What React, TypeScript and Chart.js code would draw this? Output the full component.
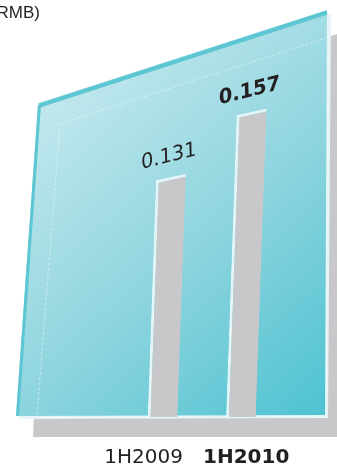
import React, { useEffect, useRef } from 'react';
import { Chart, registerables } from 'chart.js';

Chart.register(...registerables);

// ---- data ----
const categories = ['1H2009', '1H2010'];
const values = [0.131, 0.157];
const valueLabels = ['0.131', '0.157'];
const emphasis = [false, true];
const unitLabel = '(RMB)';

// ---- style constants ----
const W = 337;
const H = 467;
const SKEW_Y = -0.22; // vertical shear (perspective of bar tops)
const SKEW_X = -0.035; // horizontal shear (lean of bar sides)
const LABEL_ANGLE = Math.atan(-0.25);
const LABEL_SLANT = -0.22;
const CLIP_BOTTOM = 417;
const TEXT = '#231f20';

function poly(ctx: CanvasRenderingContext2D, pts: number[][]) {
  ctx.beginPath();
  pts.forEach((p, i) => (i === 0 ? ctx.moveTo(p[0], p[1]) : ctx.lineTo(p[0], p[1])));
  ctx.closePath();
}

const panelPlugin = {
  id: 'panel',
  beforeDraw(chart: any) {
    const ctx: CanvasRenderingContext2D = chart.ctx;
    ctx.save();
    ctx.fillStyle = '#ffffff';
    ctx.fillRect(0, 0, chart.width, chart.height);
    // grey shadow behind the panel
    ctx.fillStyle = '#c8c8ca';
    poly(ctx, [[46, 126], [337, 34], [337, 437], [33, 437]]);
    ctx.fill();
    // light rim
    ctx.fillStyle = '#e6f6f8';
    poly(ctx, [[41, 106], [331, 13], [328, 418], [19, 419]]);
    ctx.fill();
    // teal panel
    const g = ctx.createLinearGradient(40, 100, 330, 420);
    g.addColorStop(0, '#c3e8ee');
    g.addColorStop(0.5, '#8dd4de');
    g.addColorStop(1, '#4cc2d1');
    ctx.fillStyle = g;
    poly(ctx, [[38, 103], [327, 10], [325, 415], [16, 416]]);
    ctx.fill();
    // faint inner frame
    ctx.strokeStyle = 'rgba(255,255,255,0.45)';
    ctx.lineWidth = 1;
    ctx.setLineDash([3, 2]);
    ctx.beginPath();
    ctx.moveTo(37, 415);
    ctx.lineTo(60, 124);
    ctx.lineTo(326, 38);
    ctx.stroke();
    ctx.setLineDash([]);
    // top / left border
    ctx.strokeStyle = '#5cc6d2';
    ctx.lineJoin = 'miter';
    ctx.lineWidth = 3;
    ctx.beginPath();
    ctx.moveTo(17.5, 416);
    ctx.lineTo(39.5, 105);
    ctx.stroke();
    ctx.lineWidth = 4;
    ctx.beginPath();
    ctx.moveTo(39.5, 105.5);
    ctx.lineTo(327, 12.5);
    ctx.stroke();
    // unit text
    ctx.fillStyle = TEXT;
    ctx.font = '17px "Liberation Sans", Arial, sans-serif';
    ctx.textAlign = 'right';
    ctx.textBaseline = 'alphabetic';
    ctx.fillText(unitLabel, 40, 18);
    ctx.restore();
  },
};

function pivot(chart: any) {
  const meta = chart.getDatasetMeta(0);
  const X0 = meta.data[0].x;
  const Y0 = chart.scales.y.getPixelForValue(0);
  return { X0, Y0 };
}

const skewPlugin = {
  id: 'skew',
  beforeDatasetsDraw(chart: any) {
    const ctx: CanvasRenderingContext2D = chart.ctx;
    const { X0, Y0 } = pivot(chart);
    ctx.save();
    ctx.beginPath();
    ctx.rect(0, 0, chart.width, CLIP_BOTTOM);
    ctx.clip();
    ctx.transform(1, SKEW_Y, SKEW_X, 1, -SKEW_X * Y0, -SKEW_Y * X0);
  },
  afterDatasetsDraw(chart: any) {
    const ctx: CanvasRenderingContext2D = chart.ctx;
    ctx.restore();
    const { X0, Y0 } = pivot(chart);
    const meta = chart.getDatasetMeta(0);
    ctx.save();
    ctx.fillStyle = TEXT;
    ctx.textAlign = 'center';
    ctx.textBaseline = 'alphabetic';
    meta.data.forEach((el: any, i: number) => {
      const tx = el.x + SKEW_X * (el.y - Y0);
      const ty = el.y + SKEW_Y * (el.x - X0);
      ctx.save();
      ctx.translate(tx - 2, ty - 15);
      ctx.rotate(LABEL_ANGLE);
      ctx.transform(1, 0, LABEL_SLANT, 1, 0, 0);
      ctx.font = `${emphasis[i] ? 'bold ' : ''}20px "DejaVu Sans", sans-serif`;
      ctx.fillText(valueLabels[i], 0, 0);
      ctx.restore();
    });
    // category labels under the panel
    const xs = chart.scales.x;
    const mid = (xs.left + xs.right) / 2 - 9;
    categories.forEach((c, i) => {
      ctx.font = `${emphasis[i] ? 'bold ' : ''}20px "DejaVu Sans", sans-serif`;
      ctx.textAlign = i === 0 ? 'right' : 'left';
      ctx.fillText(c, i === 0 ? mid - 10 : mid + 10, 463);
    });
    ctx.restore();
  },
};

export default function App() {
  const ref = useRef<HTMLCanvasElement>(null);
  useEffect(() => {
    if (!ref.current) return;
    const chart = new Chart(ref.current, {
      type: 'bar',
      data: {
        labels: categories,
        datasets: [
          {
            data: values,
            backgroundColor: '#c8c8ca',
            borderColor: '#e4f5f8',
            borderWidth: { top: 3, left: 3, right: 0, bottom: 0 },
            borderSkipped: false,
            base: -0.02,
            barPercentage: 0.38,
            categoryPercentage: 1,
            clip: false,
          } as any,
        ],
      },
      options: {
        responsive: false,
        animation: false,
        layout: { padding: { top: 50, bottom: 12, left: 123, right: 56 } },
        scales: {
          x: { display: false },
          y: { display: false, min: -0.02, max: 0.2 },
        },
        plugins: { legend: { display: false }, tooltip: { enabled: false } },
      },
      plugins: [panelPlugin, skewPlugin],
    });
    return () => chart.destroy();
  }, []);
  return (
    <div style={{ position: 'fixed', left: 0, top: 0, width: W, height: H }}>
      <canvas ref={ref} width={W} height={H} style={{ display: 'block' }} />
    </div>
  );
}
